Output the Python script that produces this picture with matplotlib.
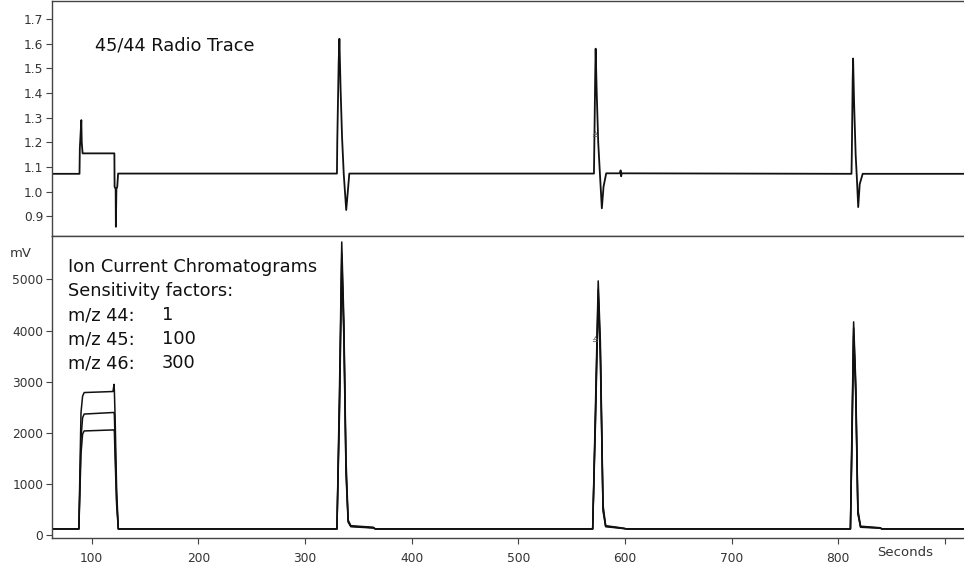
import matplotlib
matplotlib.use('Agg')
import matplotlib.pyplot as plt

plt.rcParams['font.family'] = ['DejaVu Sans']

# 45/44 ratio trace (time in seconds, ratio)
ratio_t = [62.5, 88.6, 88.9, 90.3, 90.7, 91.5,
           121.3, 121.5, 122.5, 122.7, 123.2, 124.0, 124.8,
           330.0, 330.3, 331.6, 332.3, 333.4, 334.8, 336.4, 338.7, 340.0, 341.6,
           571.0, 571.3, 572.2, 572.6, 573.6, 575.0, 576.5, 578.4, 580.0, 582.5,
           595.5, 596.0, 596.5, 597.0,
           812.5, 812.8, 813.6, 814.0, 815.0, 816.4, 817.6, 818.8, 820.2, 823.0,
           918.0]
ratio_v = [1.072, 1.072, 1.175, 1.29, 1.20, 1.155,
           1.155, 1.02, 1.01, 0.857, 1.01, 1.02, 1.073,
           1.073, 1.20, 1.52, 1.62, 1.42, 1.22, 1.07, 0.925, 0.99, 1.073,
           1.073, 1.17, 1.48, 1.58, 1.40, 1.20, 1.08, 0.932, 1.02, 1.074,
           1.074, 1.086, 1.062, 1.074,
           1.072, 1.15, 1.45, 1.54, 1.35, 1.15, 1.05, 0.937, 1.03, 1.072,
           1.072]

# ion current chromatograms, mV
ion_t = [62.5, 88.0, 90.0, 91.5, 93.0, 120.0,
         121.0, 121.3, 122.0, 123.4, 125.0,
         330.0, 332.5, 334.5, 336.5, 338.5, 340.5, 343.0, 364.0, 366.0,
         569.8, 572.5, 575.0, 577.0, 579.5, 582.0, 596.0, 602.0,
         811.5, 813.0, 814.5, 816.5, 818.5, 821.0, 839.5, 841.0,
         918.0]
mz44 = [127, 127, 2400, 2720, 2790, 2810,
        2950, 2820, 2300, 900, 127,
        127, 3000, 5730, 4200, 1500, 300, 190, 160, 127,
        127, 2600, 4970, 3800, 600, 190, 150, 127,
        127, 2200, 4170, 3000, 500, 180, 150, 127,
        127]
mz45 = [127, 127, 1900, 2300, 2370, 2400,
        2400, 2350, 1800, 700, 127,
        127, 2700, 5500, 4000, 1300, 280, 180, 150, 127,
        127, 2400, 4800, 3600, 520, 180, 145, 127,
        127, 2000, 4050, 2850, 450, 170, 145, 127,
        127]
mz46 = [127, 127, 1600, 1980, 2040, 2060,
        2060, 2020, 1500, 600, 127,
        127, 2500, 5300, 3850, 1200, 260, 170, 145, 127,
        127, 2250, 4650, 3450, 480, 170, 140, 127,
        127, 1850, 3900, 2700, 420, 160, 140, 127,
        127]

ratio_ticks = [0.9, 1.0, 1.1, 1.2, 1.3, 1.4, 1.5, 1.6, 1.7]
mv_ticks = [0, 1000, 2000, 3000, 4000, 5000]
sec_ticks = [100, 200, 300, 400, 500, 600, 700, 800, 900]
sec_labels = ['100', '200', '300', '400', '500', '600', '700', '800', '']

fig = plt.figure(figsize=(9.64, 5.69), dpi=100)
ax1 = fig.add_axes([0.0536, 0.585, 0.9464, 0.413])
ax2 = fig.add_axes([0.0536, 0.0545, 0.9464, 0.5305])

ax1.plot(ratio_t, ratio_v, color='#111111', lw=1.3)
for y in [mz44, mz45, mz46]:
    ax2.plot(ion_t, y, color='#111111', lw=1.1)

for ax in [ax1, ax2]:
    ax.set_xlim(62.5, 918)
    ax.spines['right'].set_visible(False)
    for s in ['left', 'top', 'bottom']:
        ax.spines[s].set_color('#444444')
        ax.spines[s].set_linewidth(1.0)
    ax.tick_params(direction='out', length=4, width=0.8, colors='#444444',
                   labelcolor='#333333', labelsize=8.8, pad=2)

ax1.set_ylim(0.819, 1.773)
ax1.set_yticks(ratio_ticks)
ax1.set_yticklabels(['%.1f' % v for v in ratio_ticks])
ax1.set_xticks([])

ax2.set_ylim(-50, 5844)
ax2.set_yticks(mv_ticks)
ax2.set_xticks(sec_ticks)
ax2.set_xticklabels(sec_labels)
ax2.set_xticks([863], minor=True)
ax2.set_xticklabels(['Seconds'], minor=True, fontsize=9.5)
ax2.tick_params(axis='x', which='both', pad=6)
ax2.tick_params(axis='x', which='minor', length=0, labelcolor='#333333')

ax1.text(0.0475, 0.813, '45/44 Radio Trace', transform=ax1.transAxes,
         fontsize=12.8, color='#111111', va='center')
ax1.text(572, 1.225, '\u2259', fontsize=6, color='#555555', ha='center', va='center')
ax2.text(572, 3800, '\u2259', fontsize=6, color='#555555', ha='center', va='center')

lines = ['Ion Current Chromatograms', 'Sensitivity factors:',
         'm/z 44:', 'm/z 45:', 'm/z 46:']
vals = ['', '', '1', '100', '300']
for i in range(5):
    yy = 0.897 - i * 0.0795
    ax2.text(0.018, yy, lines[i], transform=ax2.transAxes, fontsize=12.8,
             color='#111111', va='center')
    ax2.text(0.1205, yy, vals[i], transform=ax2.transAxes, fontsize=12.8,
             color='#111111', va='center')

fig.text(0.022, 0.555, 'mV', fontsize=9.5, color='#333333', ha='center', va='center')

plt.savefig('out.png', dpi=100)
